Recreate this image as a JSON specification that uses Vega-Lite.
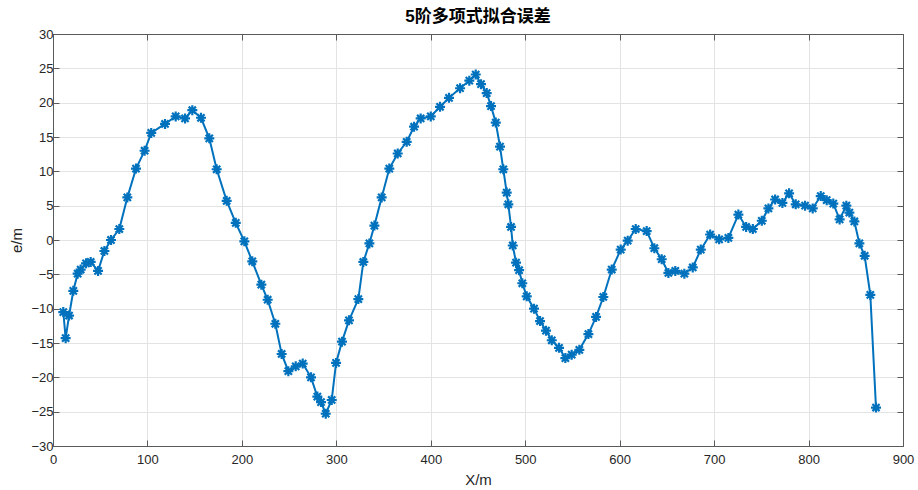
{
  "$schema": "https://vega.github.io/schema/vega-lite/v6.json",
  "width": 850,
  "height": 412,
  "autosize": "none",
  "padding": {"left": 53, "top": 34, "right": 15, "bottom": 44},
  "background": "white",
  "title": {"text": "5阶多项式拟合误差", "font": "Liberation Sans, Noto Sans CJK SC", "fontSize": 17, "fontWeight": "bold", "color": "#000000", "offset": 2},
  "config": {
    "view": {"stroke": "#5a5a5a", "strokeWidth": 1},
    "font": "Liberation Sans, Noto Sans CJK SC"
  },
  "data": {"values": [
    {"x": 10.9, "e": -10.5}, {"x": 13.4, "e": -14.3}, {"x": 17, "e": -11.0}, {"x": 21.5, "e": -7.4},
    {"x": 26.1, "e": -4.9}, {"x": 29.3, "e": -4.3}, {"x": 35, "e": -3.4}, {"x": 39.9, "e": -3.2},
    {"x": 47.7, "e": -4.5}, {"x": 54.4, "e": -1.6}, {"x": 61.4, "e": 0}, {"x": 70.2, "e": 1.6},
    {"x": 78.7, "e": 6.2}, {"x": 87.9, "e": 10.4}, {"x": 97, "e": 13}, {"x": 104, "e": 15.6},
    {"x": 118.6, "e": 16.9}, {"x": 129.9, "e": 18.0}, {"x": 139.8, "e": 17.7}, {"x": 147.5, "e": 18.9},
    {"x": 156.7, "e": 17.8}, {"x": 165.5, "e": 14.8}, {"x": 173.3, "e": 10.3}, {"x": 183.9, "e": 5.7},
    {"x": 193.5, "e": 2.5}, {"x": 202.6, "e": -0.2}, {"x": 211, "e": -3.1}, {"x": 220.6, "e": -6.5},
    {"x": 227.3, "e": -8.7}, {"x": 235.4, "e": -12.2}, {"x": 242.1, "e": -16.6}, {"x": 249.2, "e": -19.1},
    {"x": 257, "e": -18.4}, {"x": 264.4, "e": -18.0}, {"x": 273.2, "e": -20.0}, {"x": 279.9, "e": -22.8},
    {"x": 283.8, "e": -23.6}, {"x": 288.8, "e": -25.3}, {"x": 295.1, "e": -23.3}, {"x": 299.7, "e": -17.9},
    {"x": 306, "e": -14.8}, {"x": 313.4, "e": -11.7}, {"x": 323.3, "e": -8.6}, {"x": 328.6, "e": -3.2},
    {"x": 335, "e": -0.5}, {"x": 340.3, "e": 2.1}, {"x": 348, "e": 6.2}, {"x": 356.1, "e": 10.4},
    {"x": 365, "e": 12.6}, {"x": 374.5, "e": 14.3}, {"x": 382.3, "e": 16.5}, {"x": 389.3, "e": 17.7},
    {"x": 400, "e": 18.0}, {"x": 409.8, "e": 19.4}, {"x": 419.3, "e": 20.7}, {"x": 431, "e": 22.1},
    {"x": 440.8, "e": 23.2}, {"x": 447.6, "e": 24.1}, {"x": 453.2, "e": 22.7}, {"x": 459.2, "e": 21.4},
    {"x": 463.8, "e": 19.5}, {"x": 468.8, "e": 17.1}, {"x": 473.3, "e": 13.6}, {"x": 476.8, "e": 10.3},
    {"x": 480.4, "e": 6.9}, {"x": 482.1, "e": 5.2}, {"x": 485, "e": 1.9}, {"x": 486.8, "e": -0.8},
    {"x": 490.3, "e": -3.3}, {"x": 493.5, "e": -4.4}, {"x": 496.9, "e": -6.3}, {"x": 501.6, "e": -8.2},
    {"x": 509.3, "e": -10.0}, {"x": 515.7, "e": -11.8}, {"x": 522, "e": -13.2}, {"x": 528.1, "e": -14.6},
    {"x": 535.8, "e": -15.7}, {"x": 542.5, "e": -17.2}, {"x": 549.2, "e": -16.7}, {"x": 557.3, "e": -16.0},
    {"x": 566.9, "e": -13.7}, {"x": 575, "e": -11.2}, {"x": 582.7, "e": -8.3}, {"x": 591.6, "e": -4.3},
    {"x": 601.1, "e": -1.4}, {"x": 608.5, "e": -0.1}, {"x": 617, "e": 1.6}, {"x": 628.6, "e": 1.3},
    {"x": 636.7, "e": -1.2}, {"x": 644.5, "e": -2.8}, {"x": 651.6, "e": -4.8}, {"x": 658.9, "e": -4.5},
    {"x": 668.5, "e": -4.9}, {"x": 677.4, "e": -4.0}, {"x": 685.9, "e": -1.4}, {"x": 695.8, "e": 0.8},
    {"x": 705.3, "e": 0.1}, {"x": 715.1, "e": 0.3}, {"x": 725.7, "e": 3.7}, {"x": 733.9, "e": 1.9},
    {"x": 741, "e": 1.6}, {"x": 750.5, "e": 2.8}, {"x": 757.5, "e": 4.6}, {"x": 764.6, "e": 5.9},
    {"x": 772.3, "e": 5.4}, {"x": 779.4, "e": 6.8}, {"x": 786.4, "e": 5.2}, {"x": 796.3, "e": 5.0},
    {"x": 804.4, "e": 4.6}, {"x": 812.9, "e": 6.4}, {"x": 819.2, "e": 5.8}, {"x": 826.2, "e": 5.3},
    {"x": 832.9, "e": 3.0}, {"x": 840, "e": 5.0}, {"x": 843.2, "e": 4.0}, {"x": 848.5, "e": 2.7},
    {"x": 853.8, "e": -0.5}, {"x": 859.4, "e": -2.3}, {"x": 865.4, "e": -8.0}, {"x": 871.4, "e": -24.4}
  ]},
  "layer": [
    {
      "mark": {"type": "line", "color": "#0072BD", "strokeWidth": 2},
      "encoding": {
        "x": {"field": "x", "type": "quantitative", "scale": {"domain": [0, 900], "nice": false},
          "axis": {"orient": "bottom", "values": [0,100,200,300,400,500,600,700,800,900], "title": "X/m",
            "titleFontSize": 15, "titleFontWeight": "normal", "titleColor": "#262626", "titlePadding": 6,
            "labelFontSize": 13, "labelColor": "#262626", "tickSize": -6, "tickColor": "#5a5a5a", "labelPadding": 13,
            "domainColor": "#5a5a5a", "grid": true, "gridColor": "#e3e3e3", "labelFlush": false}},
        "y": {"field": "e", "type": "quantitative", "scale": {"domain": [-30, 30], "nice": false},
          "axis": {"orient": "left", "values": [-30,-25,-20,-15,-10,-5,0,5,10,15,20,25,30], "title": "e/m",
            "titleFontSize": 15, "titleFontWeight": "normal", "titleColor": "#262626", "titlePadding": 6,
            "labelFontSize": 13, "labelColor": "#262626", "tickSize": -6, "tickColor": "#5a5a5a", "labelPadding": 6,
            "domainColor": "#5a5a5a", "grid": true, "gridColor": "#e3e3e3", "labelFlush": false}}
      }
    },
    {
      "mark": {"type": "point", "shape": "M-1,0L1,0M0,-1L0,1M-0.72,-0.72L0.72,0.72M-0.72,0.72L0.72,-0.72", "filled": false, "color": "#0072BD", "strokeWidth": 2.2, "size": 100, "opacity": 1},
      "encoding": {
        "x": {"field": "x", "type": "quantitative",
          "axis": {"orient": "top", "values": [0,100,200,300,400,500,600,700,800,900], "title": null, "labels": false,
            "tickSize": -6, "tickColor": "#5a5a5a", "domainColor": "#5a5a5a", "grid": false}},
        "y": {"field": "e", "type": "quantitative",
          "axis": {"orient": "right", "values": [-30,-25,-20,-15,-10,-5,0,5,10,15,20,25,30], "title": null, "labels": false,
            "tickSize": -6, "tickColor": "#5a5a5a", "domainColor": "#5a5a5a", "grid": false}}
      }
    }
  ],
  "resolve": {"axis": {"x": "independent", "y": "independent"}}
}
